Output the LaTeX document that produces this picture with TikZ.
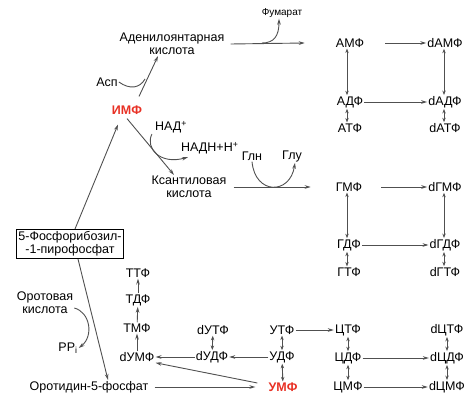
\documentclass[tikz,border=0pt]{standalone}
\usepackage{fontspec}
\setmainfont{Liberation Sans}
\usetikzlibrary{arrows.meta}
\definecolor{linegray}{RGB}{80,80,80}
\definecolor{keyred}{RGB}{232,48,36}
\tikzset{
	arr/.style={draw=linegray, line width=0.9pt, -{Stealth[length=6pt,width=3.6pt]}},
	darr/.style={draw=linegray, line width=0.9pt, {Stealth[length=4.5pt,width=3.4pt]}-{Stealth[length=4.5pt,width=3.4pt]}},
	key/.style={text=keyred, font=\fontsize{12.5}{13}\selectfont\bfseries},
	prbox/.style={draw=black, line width=1.3pt, align=center, inner sep=2pt}
}
\begin{document}
\begin{tikzpicture}[x=1pt, y=-1pt, every node/.style={inner sep=1pt, font=\fontsize{12.5}{13}\selectfont}]
		\useasboundingbox (0,0) rectangle (471,401);
		\node (fum) at (282,13) {\fontsize{10}{11}\selectfont Фумарат};
		\node[align=center] (aden) at (172,44) {Аденилоянтарная\\кислота};
		\node (asp) at (107,82) {Асп};
		\node[key] (imf) at (127,110) {ИМФ};
		\node (nad) at (171,127) {НАД\textsuperscript{+}};
		\node[anchor=west] (nadh) at (180,148) {НАДН+Н\textsuperscript{+}};
		\node[align=center] (xan) at (189,187) {Ксантиловая\\кислота};
		\node (gln) at (252,156) {Глн};
		\node (glu) at (292,156) {Глу};
		\node[prbox] (prpp) at (70,244) {5-Фосфорибозил-\\-1-пирофосфат};
		\node[align=center] (orot) at (45,303) {Оротовая\\кислота};
		\node (pp) at (68,348) {PP\textsubscript{i}};
		\node (orotidin) at (89,387) {Оротидин-5-фосфат};
		\node (amp) at (350,43) {АМФ};
		\node (adp) at (350,102) {АДФ};
		\node (atp) at (350,128) {АТФ};
		\node (damp) at (445,43) {dАМФ};
		\node (dadp) at (445,102) {dАДФ};
		\node (datp) at (445,128) {dАТФ};
		\node (gmp) at (349,187) {ГМФ};
		\node (gdp) at (349,245) {ГДФ};
		\node (gtp) at (349,272) {ГТФ};
		\node (dgmp) at (445,187) {dГМФ};
		\node (dgdp) at (445,245) {dГДФ};
		\node (dgtp) at (445,272) {dГТФ};
		\node (ttp) at (138,273) {ТТФ};
		\node (tdp) at (138,300) {ТДФ};
		\node (tmp) at (137,328) {ТМФ};
		\node (dump) at (137,357) {dУМФ};
		\node (dutp) at (213,330) {dУТФ};
		\node (dudp) at (212,357) {dУДФ};
		\node (utp) at (282,330) {УТФ};
		\node (udp) at (282,357) {УДФ};
		\node[key] (ump) at (283,387) {УМФ};
		\node (ctp) at (348,330) {ЦТФ};
		\node (cdp) at (348,358) {ЦДФ};
		\node (cmp) at (348,387) {ЦМФ};
		\node (dctp) at (447,330) {dЦТФ};
		\node (dcdp) at (447,358) {dЦДФ};
		\node (dcmp) at (447,387) {dЦМФ};
		\coordinate (aspjoin) at (145,79);
		\coordinate (fumfork) at (262,43);
		\draw[arr] ([xshift=5]prpp.north) -- ([xshift=-9,yshift=-9]imf.south);
		\draw[arr] ([xshift=12,yshift=8]imf.north) -- ([xshift=-14]aden.south);
		\draw[draw=linegray, line width=0.9pt] (asp.east) .. controls (130,90) and (140,88) .. (aspjoin);
		\draw[arr] ([xshift=5]aden.east) -- ([xshift=-30]amp.west);
		\draw[arr] (fumfork) .. controls (274,43) and (279,36) .. ([xshift=-3]fum.south);
		\draw[arr] ([yshift=-3]imf.south) -- ([xshift=-15]xan.north);
		\draw[arr] ([xshift=-2]nad.south west) .. controls (145,148) and (160,165) .. ([xshift=8,yshift=-2]nadh.south west);
		\draw[arr] ([xshift=6]xan.east) -- ([xshift=-24]gmp.west);
		\draw[arr] (gln.south) .. controls (255,195) and (290,195) .. ([xshift=3]glu.south);
		\draw[arr] ([xshift=20]amp.east) -- (damp.west);
		\draw[arr] (adp) -- (dadp);
		\draw[arr] ([xshift=18]gmp.east) -- (dgmp.west);
		\draw[arr] (gdp) -- (dgdp);
		\draw[darr] ([xshift=-3]amp.south) -- ([xshift=-3]adp.north);
		\draw[darr] ([xshift=-3]adp.south) -- ([xshift=-3]atp.north);
		\draw[darr] ([xshift=-1]damp.south) -- ([xshift=-1]dadp.north);
		\draw[darr] ([xshift=-1]dadp.south) -- ([xshift=-1]datp.north);
		\draw[darr] ([xshift=-2]gmp.south) -- ([xshift=-2]gdp.north);
		\draw[darr] ([xshift=-2]gdp.south) -- ([xshift=-2]gtp.north);
		\draw[darr] ([xshift=-1]dgmp.south) -- ([xshift=-1]dgdp.north);
		\draw[darr] ([xshift=-1]dgdp.south) -- ([xshift=-1]dgtp.north);
		\draw[arr] ([xshift=8]prpp.south) -- ([xshift=19]orotidin.north);
		\draw[arr] ([yshift=-5]orot.east) .. controls (90,312) and (94,336) .. (pp.east);
		\draw[arr] ([xshift=5]orotidin.east) -- ([xshift=-12]ump.west);
		\draw[arr] ([xshift=-10,yshift=4]ump.west) -- (dump.south east);
		\draw[arr] (udp) -- (dudp);
		\draw[arr] (dudp) -- (dump);
		\draw[arr] (dump) -- (tmp);
		\draw[arr] (tmp) -- (tdp);
		\draw[arr] (tdp) -- (ttp);
		\draw[darr] (dutp) -- (dudp);
		\draw[darr] (utp) -- (udp);
		\draw[darr] (udp) -- (ump);
		\draw[arr] (utp) -- (ctp);
		\draw[darr] (ctp) -- (cdp);
		\draw[darr] (cdp) -- (cmp);
		\draw[arr] (cdp) -- (dcdp);
		\draw[arr] (cmp) -- (dcmp);
		\draw[darr] (dctp) -- (dcdp);
		\draw[darr] (dcdp) -- (dcmp);
	\end{tikzpicture}
\end{document}
